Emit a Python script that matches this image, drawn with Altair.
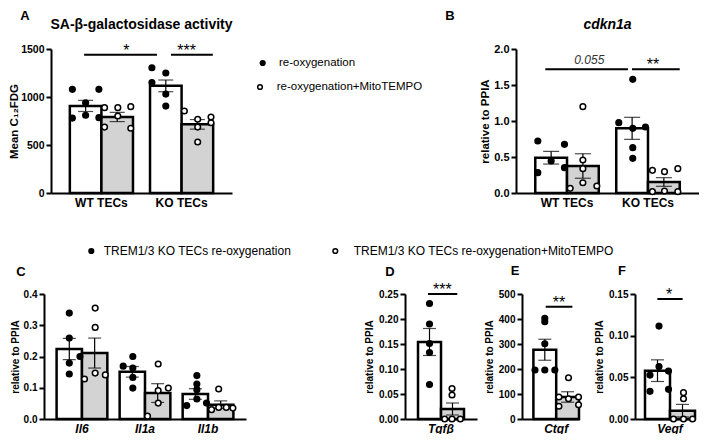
import altair as alt
import pandas as pd

FONT = "Liberation Sans"
TRT = ["re-oxygenation", "re-oxygenation+MitoTEMPO"]
LEG2 = ["TREM1/3 KO TECs re-oxygenation", "TREM1/3 KO TECs re-oxygenation+MitoTEMPO"]
BAR_FILL = ["#ffffff", "#d3d3d3"]
PT_FILL = ["#000000", "#ffffff"]

# ---------------- Panel A : SA-beta-galactosidase activity ----------------
A_cats = ["WT TECs", "KO TECs"]
A_bar_cat = ["WT TECs", "WT TECs", "KO TECs", "KO TECs"]
A_bar_trt = [0, 1, 0, 1]
A_bar_mean = [907, 792, 1116, 715]
A_bar_sem = [58, 48, 61, 50]
A_pt_cat = ["WT TECs"] * 12 + ["KO TECs"] * 11
A_pt_trt = [0] * 6 + [1] * 6 + [0] * 5 + [1] * 6
A_pt_pos = [0.04, 0.46, 0.25, 0.04, 0.25, 0.46,
            0.55, 0.76, 0.965, 0.76, 0.55, 0.965,
            0.03, 0.25, 0.03, 0.25, 0.25,
            0.544, 0.755, 0.966, 0.755, 0.966, 0.755]
A_pt_val = [1080, 1080, 940, 780, 810, 785,
            889, 889, 899, 802, 687, 674,
            1305, 1250, 1150, 1030, 905,
            854, 768, 792, 687, 732, 531]
A_sig_lines = [("WT TECs", 0.226, "KO TECs", 0.11, 1440),
               ("KO TECs", 0.332, "KO TECs", 0.995, 1440)]
A_sig_text = [("WT TECs", 0.896, 1440, "*", "star"),
              ("KO TECs", 0.58, 1440, "***", "star")]

# ---------------- Panel B : cdkn1a ----------------
B_cats = ["WT TECs", "KO TECs"]
B_bar_cat = ["WT TECs", "WT TECs", "KO TECs", "KO TECs"]
B_bar_trt = [0, 1, 0, 1]
B_bar_mean = [0.49, 0.375, 0.898, 0.153]
B_bar_sem = [0.088, 0.17, 0.153, 0.06]
B_pt_cat = ["WT TECs"] * 11 + ["KO TECs"] * 12
B_pt_trt = [0] * 5 + [1] * 6 + [0] * 6 + [1] * 6
B_pt_pos = [0.04, 0.46, 0.25, 0.46, 0.04,
            0.75, 0.75, 0.75, 0.75, 0.97, 0.55,
            0.26, 0.04, 0.26, 0.46, 0.26, 0.26,
            0.57, 0.76, 0.97, 0.57, 0.76, 0.97]
B_pt_val = [0.722, 0.676, 0.444, 0.352, 0.282,
            1.199, 0.458, 0.338, 0.143, 0.097, 0.065,
            1.579, 0.977, 0.898, 0.917, 0.630, 0.481,
            0.315, 0.296, 0.338, 0.019, 0.028, 0.019]
B_sig_lines = [("WT TECs", 0.158, "KO TECs", 0.184, 1.72),
               ("KO TECs", 0.248, "KO TECs", 1.0, 1.72)]
B_sig_text = [("WT TECs", 0.852, 1.72, "0.055", "p"),
              ("KO TECs", 0.578, 1.72, "**", "star")]

# ---------------- Panel C : Il6 / Il1a / Il1b ----------------
C_cats = ["Il6", "Il1a", "Il1b"]
C_bar_cat = ["Il6", "Il6", "Il1a", "Il1a", "Il1b", "Il1b"]
C_bar_trt = [0, 1, 0, 1, 0, 1]
C_bar_mean = [0.224, 0.211, 0.151, 0.083, 0.080, 0.046]
C_bar_sem = [0.034, 0.048, 0.017, 0.030, 0.017, 0.012]
C_pt_cat = ["Il6"] * 10 + ["Il1a"] * 10 + ["Il1b"] * 11
C_pt_trt = [0] * 5 + [1] * 5 + [0] * 5 + [1] * 5 + [0] * 6 + [1] * 5
C_pt_pos = [0.25, 0.25, 0.46, 0.25, 0.25,
            0.76, 0.76, 0.55, 0.76, 0.96,
            0.07, 0.26, 0.26, 0.26, 0.26,
            0.76, 0.76, 0.96, 0.76, 0.55,
            0.28, 0.28, 0.28, 0.28, 0.47, 0.08,
            0.71, 0.57, 0.71, 0.86, 0.99]
C_pt_val = [0.339, 0.259, 0.200, 0.179, 0.144,
            0.355, 0.293, 0.128, 0.147, 0.141,
            0.169, 0.200, 0.163, 0.133, 0.099,
            0.176, 0.091, 0.099, 0.051, 0.009,
            0.139, 0.112, 0.094, 0.064, 0.051, 0.043,
            0.096, 0.030, 0.037, 0.037, 0.035]

# ---------------- Panel D : Tgfb ----------------
D_cats = ["Tgf\u03b2"]
D_bar_cat = ["Tgf\u03b2", "Tgf\u03b2"]
D_bar_trt = [0, 1]
D_bar_mean = [0.154, 0.020]
D_bar_sem = [0.027, 0.012]
D_pt_cat = ["Tgf\u03b2"] * 10
D_pt_trt = [0] * 5 + [1] * 5
D_pt_pos = [0.25, 0.25, 0.25, 0.25, 0.25, 0.74, 0.74, 0.58, 0.74, 0.92]
D_pt_val = [0.231, 0.190, 0.151, 0.133, 0.069, 0.061, 0.048, 0.0, 0.0, 0.0]
D_sig_lines = [("Tgf\u03b2", 0.217, "Tgf\u03b2", 0.854, 0.25)]
D_sig_text = [("Tgf\u03b2", 0.528, 0.25, "***", "star")]

# ---------------- Panel E : Ctgf ----------------
E_cats = ["Ctgf"]
E_bar_cat = ["Ctgf", "Ctgf"]
E_bar_trt = [0, 1]
E_bar_mean = [277, 88]
E_bar_sem = [42, 21]
E_pt_cat = ["Ctgf"] * 12
E_pt_trt = [0] * 6 + [1] * 6
E_pt_pos = [0.25, 0.25, 0.25, 0.035, 0.25, 0.47, 0.77, 0.56, 0.77, 0.99, 0.56, 0.99]
E_pt_val = [403, 389, 301, 196, 196, 196, 165, 88, 81, 88, 51, 57]
E_sig_lines = [("Ctgf", 0.27, "Ctgf", 0.855, 449)]
E_sig_text = [("Ctgf", 0.56, 449, "**", "star")]

# ---------------- Panel F : Vegf ----------------
F_cats = ["Vegf"]
F_bar_cat = ["Vegf", "Vegf"]
F_bar_trt = [0, 1]
F_bar_mean = [0.058, 0.010]
F_bar_sem = [0.013, 0.0075]
F_pt_cat = ["Vegf"] * 11
F_pt_trt = [0] * 6 + [1] * 5
F_pt_pos = [0.28, 0.28, 0.47, 0.10, 0.10, 0.47, 0.77, 0.77, 0.57, 0.77, 0.95]
F_pt_val = [0.1115, 0.063, 0.0575, 0.0527, 0.0332, 0.0356, 0.0316, 0.0243, 0.0, 0.0, 0.0]
F_sig_lines = [("Vegf", 0.247, "Vegf", 0.753, 0.144)]
F_sig_text = [("Vegf", 0.48, 0.144, "*", "star")]


def make_panel(cats, bar_cat, bar_trt, bar_mean, bar_sem,
               pt_cat, pt_trt, pt_pos, pt_val, sig_lines, sig_texts,
               ydom, yvals, yfmt, ytitle, width, height, pin, pout, palign,
               letter, letter_dx, letter_dy, title=None, title_style="normal",
               label_style="normal", tick_fs=10, ytitle_fs=10.5, ytitle_pad=4,
               cap=13, title_dy=-24):
    bars = pd.DataFrame({
        "cat": bar_cat,
        "trt": [TRT[i] for i in bar_trt],
        "mean": bar_mean,
        "lo": [m - s for m, s in zip(bar_mean, bar_sem)],
        "hi": [m + s for m, s in zip(bar_mean, bar_sem)],
    })
    pts = pd.DataFrame({"cat": pt_cat, "trt": [TRT[i] for i in pt_trt],
                        "pos": pt_pos, "val": pt_val})

    xs = alt.Scale(domain=cats, paddingInner=pin, paddingOuter=pout, align=palign)
    xax = alt.Axis(title=None, ticks=False, tickSize=0, labelAngle=0, labelFontSize=12,
                   labelFontWeight="bold", labelFontStyle=label_style, labelPadding=4,
                   domainWidth=2, labelColor="black")
    ys = alt.Scale(domain=ydom, nice=False, zero=True)
    yax = alt.Axis(title=ytitle, values=yvals, format=yfmt, labelFontSize=tick_fs,
                   titleFontSize=ytitle_fs, titlePadding=ytitle_pad, tickSize=5,
                   tickWidth=2, domainWidth=2, labelPadding=2, labelColor="black")

    def X():
        return alt.X("cat:N", scale=xs, axis=xax, title=None)

    def Y(f):
        return alt.Y(f, scale=ys, axis=yax, title=ytitle)

    off_n = alt.XOffset("trt:N", scale=alt.Scale(domain=TRT, paddingInner=0, paddingOuter=0))
    off_q = alt.XOffset("pos:Q", scale=alt.Scale(domain=[0, 1], nice=False, zero=False))

    layers = []
    layers.append(alt.Chart(bars).mark_bar(stroke="black", strokeWidth=2.5).encode(
        x=X(), xOffset=off_n, y=Y("mean:Q"),
        fill=alt.Fill("trt:N", scale=alt.Scale(domain=TRT, range=BAR_FILL), legend=None)))
    layers.append(alt.Chart(bars).mark_rule(color="black", strokeWidth=1.2).encode(
        x=X(), xOffset=off_n, y=Y("lo:Q"), y2="hi:Q"))
    layers.append(alt.Chart(bars).mark_tick(color="black", thickness=1.2, size=cap).encode(
        x=X(), xOffset=off_n, y=Y("lo:Q")))
    layers.append(alt.Chart(bars).mark_tick(color="black", thickness=1.2, size=cap).encode(
        x=X(), xOffset=off_n, y=Y("hi:Q")))
    layers.append(alt.Chart(pts).mark_point(filled=True, size=32, stroke="black",
                                            strokeWidth=1.5, opacity=1).encode(
        x=X(), xOffset=off_q, y=Y("val:Q"),
        fill=alt.Fill("trt:N", scale=alt.Scale(domain=TRT, range=PT_FILL), legend=None)))
    if sig_lines:
        rows = []
        for k, (c1, p1, c2, p2, yv) in enumerate(sig_lines):
            rows.append({"id": k, "cat": c1, "pos": p1, "y": yv})
            rows.append({"id": k, "cat": c2, "pos": p2, "y": yv})
        layers.append(alt.Chart(pd.DataFrame(rows)).mark_line(color="black", strokeWidth=2).encode(
            x=X(), xOffset=off_q, y=Y("y:Q"), detail="id:N"))
    stars = [r for r in sig_texts if r[4] == "star"]
    pvals = [r for r in sig_texts if r[4] == "p"]
    if stars:
        df = pd.DataFrame([{"cat": c, "pos": p, "y": yv, "txt": t} for c, p, yv, t, _ in stars])
        layers.append(alt.Chart(df).mark_text(baseline="bottom", fontSize=16, dy=4, color="black").encode(
            x=X(), xOffset=off_q, y=Y("y:Q"), text="txt:N"))
    if pvals:
        df = pd.DataFrame([{"cat": c, "pos": p, "y": yv, "txt": t} for c, p, yv, t, _ in pvals])
        layers.append(alt.Chart(df).mark_text(baseline="bottom", fontSize=12, fontStyle="italic",
                                              dy=-2, color="#333333").encode(
            x=X(), xOffset=off_q, y=Y("y:Q"), text="txt:N"))
    layers.append(alt.Chart(pd.DataFrame({"t": [letter]})).mark_text(
        fontSize=13, fontWeight="bold", align="center", baseline="middle", color="black").encode(
        x=alt.value(letter_dx), y=alt.value(letter_dy), text="t:N"))
    if title:
        layers.append(alt.Chart(pd.DataFrame({"t": [title]})).mark_text(
            fontSize=14, fontWeight="bold", fontStyle=title_style, align="center",
            baseline="middle", color="black").encode(
            x=alt.value(width / 2), y=alt.value(title_dy), text="t:N"))

    return alt.layer(*layers).resolve_scale(xOffset="independent", fill="independent").properties(
        width=width, height=height)


pA = make_panel(A_cats, A_bar_cat, A_bar_trt, A_bar_mean, A_bar_sem,
                A_pt_cat, A_pt_trt, A_pt_pos, A_pt_val, A_sig_lines, A_sig_text,
                [0, 1500], [0, 500, 1000, 1500], "d", "Mean C\u2081\u2082FDG",
                181, 144, 0.2125, 0.235, 0.5, "A", -26, -33,
                title="SA-\u03b2-galactosidase activity", tick_fs=10.5, ytitle_fs=11.5,
                ytitle_pad=1, cap=15)
pB = make_panel(B_cats, B_bar_cat, B_bar_trt, B_bar_mean, B_bar_sem,
                B_pt_cat, B_pt_trt, B_pt_pos, B_pt_val, B_sig_lines, B_sig_text,
                [0, 2], [0, 0.5, 1.0, 1.5, 2.0], ".1f", "relative to PPIA",
                183, 144, 0.216, 0.238, 0.5, "B", -66, -33,
                title="cdkn1a", title_style="italic", tick_fs=11, ytitle_fs=11.5,
                ytitle_pad=3, cap=16)
pC = make_panel(C_cats, C_bar_cat, C_bar_trt, C_bar_mean, C_bar_sem,
                C_pt_cat, C_pt_trt, C_pt_pos, C_pt_val, [], [],
                [0, 0.4], [0, 0.1, 0.2, 0.3, 0.4], ".1f", "relative to PPIA",
                202, 125, 0.195, 0.2, 0.5, "C", -23, -22,
                label_style="italic", tick_fs=10, ytitle_fs=10, ytitle_pad=3, cap=13)
pD = make_panel(D_cats, D_bar_cat, D_bar_trt, D_bar_mean, D_bar_sem,
                D_pt_cat, D_pt_trt, D_pt_pos, D_pt_val, D_sig_lines, D_sig_text,
                [0, 0.25], [0, 0.05, 0.10, 0.15, 0.20, 0.25], ".2f", "relative to PPIA",
                72, 125, 0.0, 0.283, 0.5, "D", -15, -22,
                label_style="italic", tick_fs=10, ytitle_fs=10, ytitle_pad=4, cap=13)
pE = make_panel(E_cats, E_bar_cat, E_bar_trt, E_bar_mean, E_bar_sem,
                E_pt_cat, E_pt_trt, E_pt_pos, E_pt_val, E_sig_lines, E_sig_text,
                [0, 500], [0, 100, 200, 300, 400, 500], "d", "relative to PPIA",
                57, 125, 0.0, 0.125, 1.0, "E", -7, -23,
                label_style="italic", tick_fs=10, ytitle_fs=10, ytitle_pad=4, cap=13)
pF = make_panel(F_cats, F_bar_cat, F_bar_trt, F_bar_mean, F_bar_sem,
                F_pt_cat, F_pt_trt, F_pt_pos, F_pt_val, F_sig_lines, F_sig_text,
                [0, 0.15], [0, 0.05, 0.10, 0.15], ".2f", "relative to PPIA",
                60, 125, 0.0, 0.1, 1.0, "F", -13, -23,
                label_style="italic", tick_fs=10, ytitle_fs=10, ytitle_pad=4, cap=13)

one = pd.DataFrame({"t": [0]})


def legend_item(x, y, filled, label, fs, tx, size):
    dot = alt.Chart(one).mark_point(filled=True, size=size, stroke="black", strokeWidth=1.5,
                                    fill="black" if filled else "white", opacity=1).encode(
        x=alt.value(x), y=alt.value(y))
    txt = alt.Chart(pd.DataFrame({"t": [label]})).mark_text(
        align="left", baseline="middle", fontSize=fs, color="black").encode(
        x=alt.value(tx), y=alt.value(y), text="t:N")
    return [dot, txt]


def spacer(w, h):
    return alt.Chart(one).mark_point(opacity=0).encode(
        x=alt.value(0), y=alt.value(0)).properties(width=w, height=h)


legTop = alt.layer(*(legend_item(30.7, 14, True, TRT[0], 11.5, 47, 22) +
                     legend_item(28, 38, False, TRT[1], 11.5, 44.7, 22))).properties(width=284, height=144)

legBot = alt.layer(*(legend_item(47.3, 43, True, LEG2[0], 12, 59.7, 22) +
                     legend_item(291.3, 43, False, LEG2[1], 12, 309.7, 22))).properties(width=650, height=57)

top = alt.hconcat(spacer(7, 144), pA, legTop, pB, spacing=0, bounds="flush")
bottom = alt.hconcat(pC, spacer(159, 125), pD, spacer(45, 125), pE, spacer(56, 125), pF,
                     spacing=0, bounds="flush")

chart = alt.vconcat(top, legBot, bottom, spacing=0).properties(
    padding={"top": 2, "left": 0, "right": 0, "bottom": 0}, background="white"
).configure_view(stroke=None).configure_axis(
    labelFont=FONT, titleFont=FONT, labelColor="black", titleColor="black",
    domainColor="black", tickColor="black", grid=False,
    labelFontWeight="bold", titleFontWeight="bold"
).configure_text(font=FONT)

chart.save("out.html", embed_options={"renderer": "svg", "actions": False})
